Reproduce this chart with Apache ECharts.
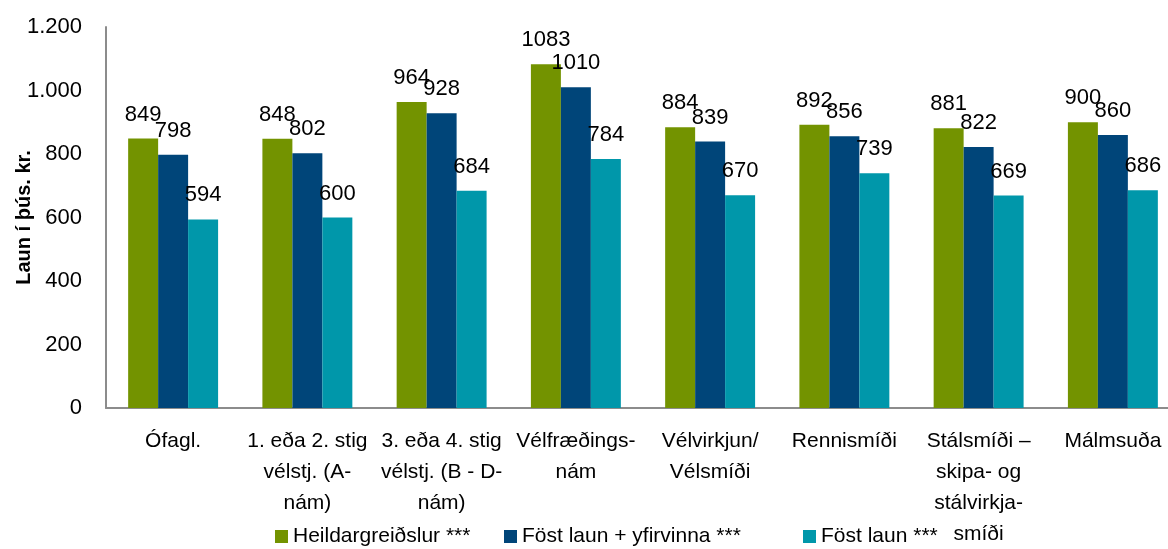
<!DOCTYPE html>
<html>
<head>
<meta charset="utf-8">
<script src="https://cdn.jsdelivr.net/npm/echarts@6/dist/echarts.min.js"></script>
<style>
  html, body { margin: 0; padding: 0; background: #fff; }
  #chart { width: 1168px; height: 549px; }
</style>
</head>
<body>
<div id="chart"></div>
<script>
const categories = [
  'Ófagl.',
  '1. eða 2. stig\nvélstj. (A-\nnám)',
  '3. eða 4. stig\nvélstj. (B - D-\nnám)',
  'Vélfræðings-\nnám',
  'Vélvirkjun/\nVélsmíði',
  'Rennismíði',
  'Stálsmíði –\nskipa- og\nstálvirkja-\nsmíði',
  'Málmsuða'
];
const heildar = [849, 848, 964, 1083, 884, 892, 881, 900];
const fostYfir = [798, 802, 928, 1010, 839, 856, 822, 860];
const fost = [594, 600, 684, 784, 670, 739, 669, 686];
const seriesNames = ['Heildargreiðslur ***', 'Föst laun + yfirvinna ***', 'Föst laun ***'];

const FONT = "'Liberation Sans', Arial, sans-serif";
const colors = ['#739300', '#004579', '#0097aa'];

const chart = echarts.init(document.getElementById('chart'));

function barSeries(name, data, color) {
  return {
    name: name,
    type: 'bar',
    data: data,
    barGap: '0%',
    barCategoryGap: '33%',
    itemStyle: { color: color },
    label: {
      show: true,
      position: 'top',
      distance: 13,
      color: '#000',
      fontFamily: FONT,
      fontSize: 22
    },
    animation: false
  };
}

// Excel-style legend items sit at uneven spacing, so one legend per item
function legendAt(left, name) {
  return {
    left: left,
    top: 521,
    data: [name],
    icon: 'rect',
    itemWidth: 13,
    itemHeight: 13,
    itemGap: 0,
    textStyle: { fontFamily: FONT, fontSize: 21, color: '#000' }
  };
}

chart.setOption({
  backgroundColor: '#fff',
  color: colors,
  grid: { left: 106, right: -12, top: 27, bottom: 141, containLabel: false, outerBoundsMode: 'none' },
  legend: [
    legendAt(270, seriesNames[0]),
    legendAt(499, seriesNames[1]),
    legendAt(798, seriesNames[2])
  ],
  xAxis: {
    type: 'category',
    data: categories,
    axisLine: { lineStyle: { color: '#8c8c8c', width: 2 } },
    axisTick: { show: false },
    axisLabel: {
      interval: 0,
      margin: 18,
      color: '#000',
      fontFamily: FONT,
      fontSize: 21,
      lineHeight: 31
    }
  },
  yAxis: {
    type: 'value',
    min: 0,
    max: 1200,
    interval: 200,
    name: 'Laun í þús. kr.',
    nameLocation: 'middle',
    nameGap: 72,
    nameMoveOverlap: false,
    nameTextStyle: {
      fontFamily: FONT,
      fontSize: 20,
      fontWeight: 'bold',
      color: '#000'
    },
    axisLine: { show: true, lineStyle: { color: '#8c8c8c', width: 2 } },
    axisTick: { show: false },
    splitLine: { show: false },
    axisLabel: {
      margin: 24,
      color: '#000',
      fontFamily: FONT,
      fontSize: 22,
      formatter: v => v >= 1000 ? (v / 1000).toFixed(3) : String(v)
    }
  },
  series: [
    barSeries(seriesNames[0], heildar, colors[0]),
    barSeries(seriesNames[1], fostYfir, colors[1]),
    barSeries(seriesNames[2], fost, colors[2])
  ]
});
</script>
</body>
</html>
